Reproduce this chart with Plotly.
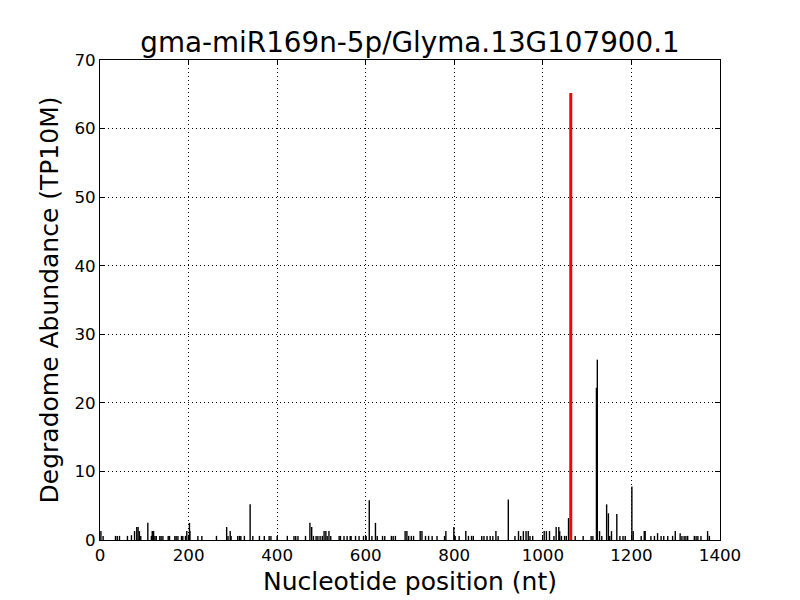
import plotly.graph_objects as go

# Degradome tags (position in nt, abundance in TP10M)
positions = [2, 7, 35, 39, 44, 62, 71, 78, 83, 86, 89, 92, 108, 116, 118, 121, 124, 127,
             135, 138, 142, 154, 157, 169, 172, 176, 184, 187, 193, 196, 202, 203, 221, 230,
             263, 286, 289, 294, 296, 311, 315, 318, 326, 339, 345, 360, 371, 382, 386, 400,
             423, 438, 442, 447, 464, 474, 478, 482, 488, 492, 497, 502, 506, 510, 513, 517,
             521, 540, 543, 551, 558, 565, 567, 577, 585, 595, 601, 608, 614, 622, 626, 638,
             643, 658, 662, 667, 689, 693, 697, 703, 708, 723, 727, 735, 742, 750, 761, 778,
             781, 799, 802, 811, 826, 832, 839, 843, 862, 867, 874, 881, 887, 894, 899, 922,
             937, 945, 950, 956, 962, 967, 971, 977, 1003, 1008, 1015, 1025, 1030, 1036, 1038,
             1042, 1049, 1053, 1058, 1073, 1091, 1109, 1113, 1121, 1123, 1128, 1133, 1144,
             1148, 1151, 1155, 1167, 1174, 1181, 1186, 1201, 1204, 1222, 1229, 1231, 1244,
             1252, 1259, 1267, 1273, 1282, 1293, 1299, 1310, 1314, 1319, 1323, 1327, 1342,
             1346, 1350, 1357, 1372, 1376]
abundance = [1.3, 0.6, 0.6, 0.6, 0.6, 0.6, 0.7, 1.3, 1.9, 1.9, 1.3, 0.6, 2.5, 0.6, 1.3, 1.3, 0.6, 0.6,
             0.6, 0.6, 0.6, 0.6, 0.6, 0.6, 0.6, 0.6, 0.6, 0.6, 0.6, 1.3, 2.5, 1.3, 0.6, 0.6,
             0.6, 1.9, 0.6, 1.3, 0.6, 0.6, 0.6, 0.6, 0.6, 5.2, 0.6, 0.6, 0.6, 0.6, 0.6, 0.6,
             0.6, 0.6, 0.6, 0.6, 0.6, 2.5, 1.9, 0.6, 0.6, 0.6, 0.6, 0.6, 1.3, 1.3, 0.6, 1.3,
             0.6, 0.6, 0.6, 0.6, 0.6, 0.6, 0.6, 0.6, 0.6, 0.6, 0.6, 5.8, 0.6, 2.5, 0.6, 0.6,
             0.6, 0.6, 0.6, 0.6, 1.3, 1.3, 0.6, 0.6, 0.6, 1.3, 1.3, 0.6, 0.6, 0.6, 0.6, 0.6,
             1.3, 1.9, 0.6, 0.6, 1.3, 0.6, 0.6, 0.6, 0.6, 0.6, 0.6, 0.6, 0.6, 1.3, 0.6, 5.9,
             0.6, 1.3, 0.6, 1.3, 1.3, 1.3, 0.6, 0.6, 1.3, 1.3, 1.3, 0.6, 1.9, 1.9, 1.3,
             0.6, 0.6, 0.6, 3.2, 0.6, 0.6, 0.6, 0.6, 22.2, 26.3, 1.3, 0.6, 5.2,
             3.9, 0.6, 1.3, 3.8, 0.6, 0.6, 0.6, 7.8, 1.3, 0.6, 1.3, 1.3, 0.6,
             0.6, 1.0, 0.6, 0.6, 0.6, 0.6, 1.3, 1.0, 0.6, 0.6, 0.6, 0.6, 0.6,
             0.6, 0.6, 0.6, 1.3, 0.6]

# miRNA cleavage site
site_position = [1063]
site_abundance = [65.2]

title_text = "gma-miR169n-5p/Glyma.13G107900.1"
x_label = "Nucleotide position (nt)"
y_label = "Degradome Abundance (TP10M)"
x_ticks = [0, 200, 400, 600, 800, 1000, 1200, 1400]
y_ticks = [0, 10, 20, 30, 40, 50, 60, 70]


def stems(xs, ys):
    sx, sy = [], []
    for x, y in zip(xs, ys):
        sx += [x, x, None]
        sy += [0, y, None]
    return sx, sy


bx, by = stems(positions, abundance)
rx, ry = stems(site_position, site_abundance)

fig = go.Figure()
fig.add_trace(go.Scatter(x=bx, y=by, mode="lines", line=dict(color="black", width=1.4),
                         hoverinfo="skip", showlegend=False))
fig.add_trace(go.Scatter(x=rx, y=ry, mode="lines", line=dict(color="red", width=3),
                         hoverinfo="skip", showlegend=False))

font_family = "DejaVu Sans"
axis_common = dict(
    showline=True, linecolor="black", linewidth=1, mirror="allticks",
    ticks="inside", ticklen=5, tickcolor="black", tickwidth=1,
    showgrid=True, gridcolor="black", griddash="1px,3px", gridwidth=1,
    zeroline=False, automargin=False,
    tickfont=dict(family=font_family, size=16.7, color="black"),
)

fig.update_layout(
    width=800, height=600,
    margin=dict(l=100, r=80, t=60, b=60),
    paper_bgcolor="white", plot_bgcolor="white",
    title=dict(text=title_text, x=0.5, xref="paper", xanchor="center", y=1 - 42 / 600,
               yanchor="middle", yref="container",
               font=dict(family=font_family, size=27.8, color="black")),
    xaxis=dict(range=[0, 1400], tickvals=x_ticks, ticktext=[str(t) for t in x_ticks],
               title=dict(text=x_label, font=dict(family=font_family, size=25, color="black"),
                          standoff=8),
               **axis_common),
    yaxis=dict(range=[0, 70], tickvals=y_ticks, ticktext=[str(t) for t in y_ticks],
               title=dict(text=y_label, font=dict(family=font_family, size=25, color="black"),
                          standoff=8),
               **axis_common),
)

fig.write_html("out.html", post_script="document.body.style.margin='0';",
               config={"displayModeBar": False})
